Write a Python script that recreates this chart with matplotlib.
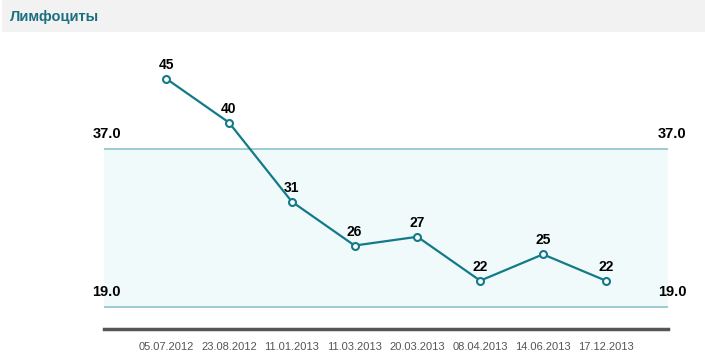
import matplotlib
matplotlib.use('Agg')
import matplotlib.pyplot as plt
from matplotlib.patches import Rectangle

dates = ['05.07.2012', '23.08.2012', '11.01.2013', '11.03.2013',
         '20.03.2013', '08.04.2013', '14.06.2013', '17.12.2013']
values = [45, 40, 31, 26, 27, 22, 25, 22]
ref_low = 19.0
ref_high = 37.0
title = 'Лимфоциты'

teal = '#137a88'
plt.rcParams['font.family'] = ['Liberation Sans', 'DejaVu Sans']

fig = plt.figure(figsize=(7.05, 3.64), dpi=100)

# header band
fig.patches.append(Rectangle((2 / 705, 332 / 364), 703 / 705, 32 / 364,
                             transform=fig.transFigure, facecolor='#f2f2f2',
                             edgecolor='none', zorder=0))
fig.text(10 / 705, 347 / 364, title, color='#1b6f80', fontsize=10.5,
         fontweight='bold', va='center', ha='left')

ax = fig.add_axes([104 / 705, 35 / 364, 564 / 705, 289 / 364])
x = list(range(len(values)))
ax.set_xlim(-0.99, 7.99)
ax.set_ylim(16.5, 49.4)

ax.axhspan(ref_low, ref_high, facecolor='#f0fafb', edgecolor='none', zorder=0)
ax.axhline(ref_high, color='#8cc4c8', lw=1.2, zorder=1)
ax.axhline(ref_low, color='#8cc4c8', lw=1.2, zorder=1)

ax.plot(x, values, color=teal, lw=1.6, zorder=3,
        marker='o', ms=5, mfc='white', mec=teal, mew=1.5)
for xi, v in zip(x, values):
    ax.annotate(str(v), (xi, v), xytext=(0, 5), textcoords='offset points',
                ha='center', va='bottom', fontsize=10, fontweight='bold')

# reference labels
for val in (ref_high, ref_low):
    ax.annotate(f'{val:.1f}', (0, val), xycoords=('axes fraction', 'data'),
                xytext=(2, 6), textcoords='offset points', ha='center',
                va='bottom', fontsize=10.5, fontweight='bold')
    ax.annotate(f'{val:.1f}', (1, val), xycoords=('axes fraction', 'data'),
                xytext=(3, 6), textcoords='offset points', ha='center',
                va='bottom', fontsize=10.5, fontweight='bold')

for s in ['top', 'left', 'right']:
    ax.spines[s].set_visible(False)
ax.spines['bottom'].set_color('#555555')
ax.spines['bottom'].set_linewidth(2.5)
ax.set_yticks([])
ax.set_xticks(x)
ax.set_xticklabels(dates, fontsize=8, color='#555555')
ax.tick_params(axis='x', length=0, pad=9)
ax.set_facecolor('none')

fig.savefig('out.png', dpi=100)
